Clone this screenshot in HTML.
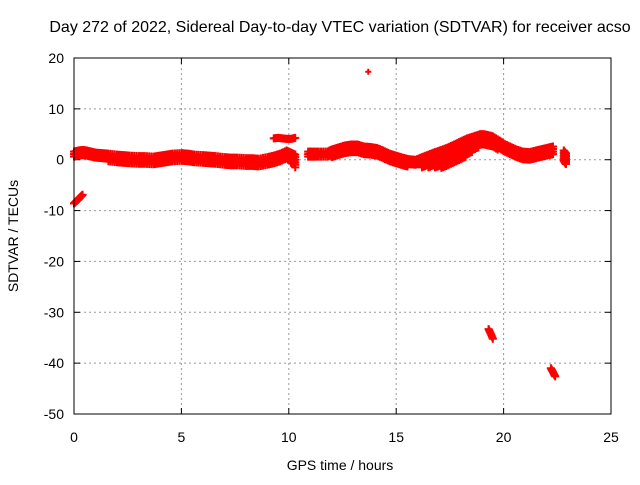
<!DOCTYPE html>
<html><head><meta charset="utf-8"><style>
body{margin:0;background:#fff}
svg text{font-family:"Liberation Sans",sans-serif;font-size:14px;fill:#000}
</style></head><body>
<svg id="c" width="640" height="480">
<text x="340" y="32" text-anchor="middle" style="font-size:16px">Day 272 of 2022, Sidereal Day-to-day VTEC variation (SDTVAR) for receiver acso</text>
<text x="340" y="470" text-anchor="middle">GPS time / hours</text>
<text transform="translate(18,236) rotate(-90)" text-anchor="middle">SDTVAR / TECUs</text>
<g id="grid"></g><g id="marks"></g>
<rect x="74" y="58" width="537" height="356" fill="none" stroke="#000" stroke-width="1"/>
</svg>
<script>
const xTicks=[0,5,10,15,20,25];
const yTicks=[20,10,0,-10,-20,-30,-40,-50];
// main band: time, center value, band spread
const times=[0,0.2,0.4,0.6,0.8,1,1.3,1.6,2,2.3,2.6,3,3.3,3.7,4,4.3,4.6,5,5.3,5.6,6,6.3,6.6,7,7.3,7.6,8,8.3,8.6,9,9.3,9.6,9.9,10.1,10.3,
 10.9,11.1,11.4,11.8,12,12.3,12.6,12.9,13.2,13.5,13.8,14.1,14.4,14.7,15,15.3,15.6,15.9,16.2,16.5,16.8,17.1,17.4,17.7,18,18.3,18.6,18.9,19.1,19.3,19.5,
 19.8,20,20.3,20.6,20.9,21.2,21.5,21.8,22.1,22.3,22.8,22.9];
const values=[1.6,1.8,1.9,1.8,1.6,1.4,1.3,1.2,1.0,0.9,0.8,0.7,0.7,0.6,0.8,1.0,1.2,1.3,1.2,1.0,0.9,0.8,0.7,0.5,0.4,0.4,0.3,0.3,0.2,0.5,0.8,1.2,1.8,1.4,1.0,
 1.6,1.6,1.6,1.6,2.0,2.4,2.8,3.0,3.0,2.6,2.5,2.3,1.8,1.2,0.8,0.4,0.1,0.0,0.5,1.0,1.5,1.9,2.4,3.0,3.6,4.2,4.6,5.0,5.0,4.8,4.6,
 3.8,3.2,2.6,2.0,1.6,1.5,1.8,2.1,2.4,2.6,1.8,1.2];
const spreads=[1,1,1,1,1,1,1.2,1.5,1.5,1.5,1.5,1.5,1.5,1.5,1.5,1.5,1.5,1.5,1.5,1.5,1.5,1.5,1.5,1.5,1.5,1.5,1.5,1.5,1.5,1.5,1.5,1.5,1.5,2,2.5,
 1.2,1.2,1.2,1.2,1.5,1.5,1.5,1.5,1.5,1.5,1.5,1.5,1.5,1.5,1.5,1.5,1.2,1.2,2,2.5,3,3.5,3.5,3.5,3.5,3,2.5,2,2,2,2,
 1.5,1.5,1.5,1.5,1.5,1.5,1.5,1.5,1.5,1.5,2,2];
// isolated tracks: time, value
const extraTimes=[0,0.1,0.2,0.3,0.4,9.3,9.5,9.7,9.9,10.1,10.3,13.7,19.3,19.4,19.5,22.2,22.3,22.4];
const extraValues=[-8.6,-8.2,-7.8,-7.3,-6.9,4.2,4.3,4.2,4.1,4.1,4.3,17.3,-33.3,-34.2,-35.2,-41.0,-41.8,-42.6];
const X=t=>74+t*537/25, Y=v=>58+(20-v)*356/70;
const ns="http://www.w3.org/2000/svg";
const grid=document.getElementById('grid'),marks=document.getElementById('marks');
function mk(tag,attrs,parent){const e=document.createElementNS(ns,tag);for(const k in attrs)e.setAttribute(k,attrs[k]);parent.appendChild(e);return e;}
xTicks.forEach(t=>{
 if(t>0&&t<25){const l=mk('line',{x1:X(t),x2:X(t),y1:58,y2:414,stroke:'#999','stroke-dasharray':'2,3'},grid);
 
 }
 mk('line',{x1:X(t),x2:X(t),y1:414,y2:408,stroke:'#000'},grid);mk('line',{x1:X(t),x2:X(t),y1:58,y2:64,stroke:'#000'},grid);
 const tx=mk('text',{x:X(t),y:442,'text-anchor':'middle'},grid);tx.textContent=t;
 
 
});
yTicks.forEach(v=>{
 if(v<20&&v>-50){const l=mk('line',{x1:74,x2:611,y1:Y(v),y2:Y(v),stroke:'#999','stroke-dasharray':'2,3'},grid);
 
 }
 mk('line',{x1:74,x2:80,y1:Y(v),y2:Y(v),stroke:'#000'},grid);mk('line',{x1:611,x2:605,y1:Y(v),y2:Y(v),stroke:'#000'},grid);
 const tx=mk('text',{x:64,y:Y(v)+5,'text-anchor':'end'},grid);tx.textContent=v;
 
 
});
function plus(x,y,s){const p=mk('path',{d:`M${x-s} ${y}H${x+s}M${x} ${y-s}V${y+s}`,stroke:'#f00','stroke-width':2},marks);
 
 }
for(let i=0;i<times.length;i++){
 const n=i+1<times.length?times[i+1]:times[i];
 const gap=(n-times[i])>0.45?1:4;
 for(let k=0;k<gap;k++){
  const f=k/4, t=times[i]+(n-times[i])*f, v=values[i]+(gap>1&&i+1<values.length?(values[i+1]-values[i])*f:0);
  const sp=spreads[i];
  for(let d=0;d<=sp;d+=0.5)plus(X(t),Y(v-d),4);
 }
}
for(let i=0;i<extraTimes.length;i++){
 const s=i==11?3:4;
 plus(X(extraTimes[i]),Y(extraValues[i]),s);
 if(i+1<extraTimes.length&&extraTimes[i+1]-extraTimes[i]<=0.25){
  for(let k=1;k<4;k++){const f=k/4;
   plus(X(extraTimes[i]+(extraTimes[i+1]-extraTimes[i])*f),Y(extraValues[i]+(extraValues[i+1]-extraValues[i])*f),s);}
 }
}
</script>
</body></html>
